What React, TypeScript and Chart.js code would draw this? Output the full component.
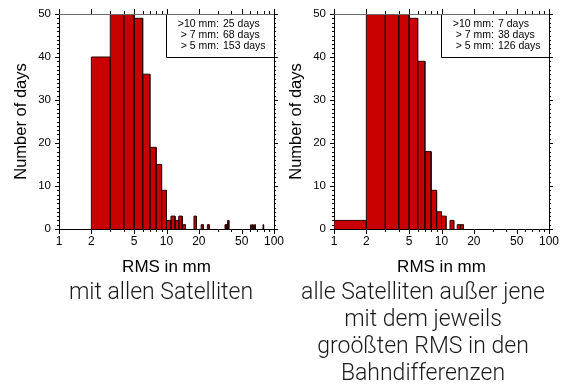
import React, { useEffect, useRef } from "react";
import { Chart, registerables } from "chart.js";

Chart.register(...registerables);
Chart.defaults.font.family = "'Liberation Sans', Arial, Helvetica, sans-serif";
Chart.defaults.color = "#000";

// ---- data -------------------------------------------------------------
const binWidth = 1; // mm

const leftBinStarts = [2, 3, 4, 5, 6, 7, 8, 9, 10, 11, 12, 13, 14, 18, 21, 24, 35, 36, 37, 60, 62, 64, 66, 79];
const leftCounts = [40, 62, 58, 49, 36, 19, 15, 9, 2, 3, 2, 3, 1, 3, 1, 1, 1, 1, 2, 1, 1, 1, 1, 1];

const rightBinStarts = [1, 2, 3, 4, 5, 6, 7, 8, 9, 10, 12, 14, 15];
const rightCounts = [2, 60, 57, 55, 49, 39, 18, 9, 4, 3, 2, 1, 1];

const summaryLabels = [">10 mm:", "> 7 mm:", "> 5 mm:"];
const leftSummaryDays = [25, 68, 153];
const rightSummaryDays = [7, 38, 126];

const xTickValues = [1, 2, 5, 10, 20, 50, 100];
const xMinorTickValues = [3, 4, 6, 7, 8, 9, 30, 40, 60, 70, 80, 90];
const yTickValues = [0, 10, 20, 30, 40, 50];
const yMinorStep = 1;

const xAxisTitle = "RMS in mm";
const yAxisTitle = "Number of days";
const leftCaption = ["mit allen Satelliten"];
const rightCaption = ["alle Satelliten außer jene", "mit dem jeweils", "groößten RMS in den", "Bahndifferenzen"];

// ---- layout ------------------------------------------------------------
const CW = 287;
const CH = 285;
const PLOT_TOP = 14;
const PLOT_BOTTOM = 229;
const Y_AXIS_W = 59;
const PAD_RIGHT = 13;
const FONT = "'Liberation Sans', Arial, Helvetica, sans-serif";

const framePlugin = {
  id: "frame",
  afterDatasetsDraw(chart: any, _args: any, opts: any) {
    const { ctx, chartArea: a } = chart;
    const xs = chart.scales.x;
    const ys = chart.scales.y;
    const px = (v: number) => Math.round(v) + 0.5;
    ctx.save();
    ctx.lineWidth = 1;

    // legend box
    const bw = 108;
    const bh = 43;
    const bx = a.right - bw;
    ctx.fillStyle = "#fff";
    ctx.fillRect(bx, a.top, bw, bh);
    ctx.strokeStyle = "#000";
    ctx.beginPath();
    ctx.moveTo(px(bx), a.top);
    ctx.lineTo(px(bx), px(a.top + bh));
    ctx.lineTo(a.right, px(a.top + bh));
    ctx.stroke();

    ctx.fillStyle = "#000";
    ctx.font = `10.5px ${FONT}`;
    ctx.textBaseline = "middle";
    const colonX = a.right - 55;
    const lineYs = [10, 21.3, 32.6];
    (opts.days as number[]).forEach((d, i) => {
      ctx.textAlign = "right";
      ctx.fillText(summaryLabels[i], colonX, a.top + lineYs[i]);
      ctx.textAlign = "left";
      ctx.fillText(`${d} days`, colonX + 4, a.top + lineYs[i]);
    });

    // top frame line
    ctx.strokeStyle = "#6a6a6a";
    ctx.beginPath();
    ctx.moveTo(a.left, px(a.top));
    ctx.lineTo(a.right + 1, px(a.top));
    ctx.stroke();

    // right frame line
    ctx.strokeStyle = "#000";
    ctx.beginPath();
    ctx.moveTo(px(a.right), a.top);
    ctx.lineTo(px(a.right), a.bottom + 1);
    ctx.stroke();

    // x ticks (bottom outward, top outward)
    ctx.beginPath();
    const xt: [number, number][] = [
      ...xTickValues.map((v) => [v, 5] as [number, number]),
      ...xMinorTickValues.map((v) => [v, 3] as [number, number]),
    ];
    for (const [v, len] of xt) {
      const X = px(xs.getPixelForValue(v));
      ctx.moveTo(X, a.bottom);
      ctx.lineTo(X, a.bottom + len);
      ctx.moveTo(X, a.top);
      ctx.lineTo(X, a.top - len);
    }
    // y ticks (left outward, right outward)
    for (let v = ys.min; v <= ys.max + 1e-9; v += yMinorStep) {
      const len = yTickValues.includes(v) ? 4 : 2;
      const Y = px(ys.getPixelForValue(v));
      ctx.moveTo(a.left, Y);
      ctx.lineTo(a.left - len, Y);
      ctx.moveTo(a.right, Y);
      ctx.lineTo(a.right + len, Y);
    }
    ctx.stroke();
    ctx.restore();
  },
};

function makeDatasets(starts: number[], counts: number[]) {
  return starts.map((s, i) => ({
    data: [
      { x: s, y: 0 },
      { x: s, y: counts[i] },
      { x: s + binWidth, y: counts[i] },
      { x: s + binWidth, y: 0 },
    ],
    borderColor: "#2a0000",
    borderWidth: 1,
    backgroundColor: "#c80000",
    fill: "origin",
    pointRadius: 0,
    tension: 0,
  }));
}

function Histogram({ starts, counts, days, left }: { starts: number[]; counts: number[]; days: number[]; left: number }) {
  const ref = useRef<HTMLCanvasElement>(null);
  useEffect(() => {
    const chart = new Chart(ref.current!, {
      type: "line",
      data: { datasets: makeDatasets(starts, counts) as any },
      plugins: [framePlugin],
      options: {
        animation: false,
        responsive: false,
        events: [],
        layout: { padding: { top: PLOT_TOP, right: PAD_RIGHT, left: 0, bottom: 0 } },
        plugins: {
          legend: { display: false },
          tooltip: { enabled: false },
          frame: { days },
        } as any,
        scales: {
          x: {
            type: "logarithmic",
            min: 1,
            max: 100,
            afterBuildTicks: (s: any) => {
              s.ticks = xTickValues.map((v) => ({ value: v }));
            },
            afterFit: (s: any) => {
              s.height = CH - PLOT_BOTTOM;
              s.paddingLeft = 0;
              s.paddingRight = 0;
            },
            ticks: {
              autoSkip: false,
              maxRotation: 0,
              padding: 5,
              font: { size: 12 },
              color: "#000",
              callback: (v: any) => String(v),
            },
            grid: { display: false, drawTicks: false },
            border: { display: true, color: "#000", width: 1 },
            title: {
              display: true,
              text: xAxisTitle,
              font: { size: 17 },
              color: "#000",
              padding: { top: 0, bottom: 7 },
            },
          },
          y: {
            type: "linear",
            min: 0,
            max: 50,
            afterBuildTicks: (s: any) => {
              s.ticks = yTickValues.map((v) => ({ value: v }));
            },
            afterFit: (s: any) => {
              s.width = Y_AXIS_W;
              s.paddingTop = 0;
              s.paddingBottom = 0;
            },
            ticks: { padding: 8, font: { size: 11.5 }, color: "#000" },
            grid: { display: false, drawTicks: false },
            border: { display: true, color: "#000", width: 1 },
            title: {
              display: true,
              text: yAxisTitle,
              font: { size: 16.5 },
              color: "#000",
              padding: { top: 12, bottom: 0 },
            },
          },
        },
      } as any,
    });
    return () => chart.destroy();
  }, []);
  return (
    <canvas
      ref={ref}
      width={CW}
      height={CH}
      style={{ position: "absolute", left, top: 0, width: CW, height: CH }}
    />
  );
}

function Caption({ lines, center }: { lines: string[]; center: number }) {
  return (
    <div
      style={{
        position: "absolute",
        left: center - 150,
        width: 300,
        top: 278,
        textAlign: "center",
        fontFamily: "Roboto, 'Noto Sans', sans-serif",
        fontWeight: 300,
        fontSize: 23,
        lineHeight: "27px",
        color: "#1a1a1a",
        whiteSpace: "nowrap",
      }}
    >
      {lines.map((l, i) => (
        <div key={i}>{l}</div>
      ))}
    </div>
  );
}

export default function App() {
  return (
    <div style={{ position: "absolute", left: 0, top: 0, width: 562, height: 389, background: "#fff", overflow: "hidden" }}>
      <Histogram starts={leftBinStarts} counts={leftCounts} days={leftSummaryDays} left={0} />
      <Histogram starts={rightBinStarts} counts={rightCounts} days={rightSummaryDays} left={275} />
      <Caption lines={leftCaption} center={161} />
      <Caption lines={rightCaption} center={423} />
    </div>
  );
}
